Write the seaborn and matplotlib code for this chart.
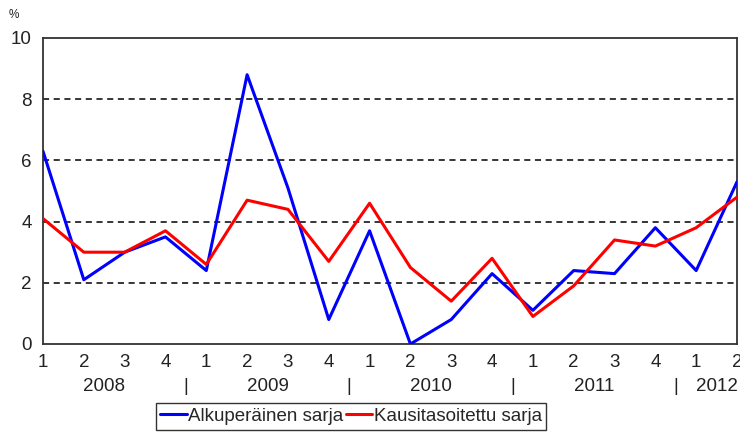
import matplotlib
matplotlib.use("Agg")
import matplotlib.pyplot as plt
import matplotlib.transforms as mtransforms
import pandas as pd
import seaborn as sns

# ── Data ──────────────────────────────────────────────────────────────────────
quarters = ["1", "2", "3", "4"] * 4 + ["1", "2"]
years = ["2008", "2009", "2010", "2011", "2012"]
year_pos = [1.5, 5.5, 9.5, 13.5, 16.5]
year_sep = [3.5, 7.5, 11.5, 15.5]

original = [6.3, 2.1, 3.0, 3.5, 2.4, 8.8, 5.1, 0.8, 3.7,
            0.0, 0.8, 2.3, 1.1, 2.4, 2.3, 3.8, 2.4, 5.3]
seasonal = [4.1, 3.0, 3.0, 3.7, 2.6, 4.7, 4.4, 2.7, 4.6,
            2.5, 1.4, 2.8, 0.9, 1.9, 3.4, 3.2, 3.8, 4.8]

name_orig = "Alkuperäinen sarja"
name_seas = "Kausitasoitettu sarja"

df = pd.DataFrame({
    "t": list(range(len(original))) * 2,
    "value": original + seasonal,
    "series": [name_orig] * len(original) + [name_seas] * len(seasonal),
})

# ── Plot ──────────────────────────────────────────────────────────────────────
sns.set_style("white")
plt.rcParams["font.family"] = ["Liberation Sans", "DejaVu Sans"]
FS = 13.5

fig = plt.figure(figsize=(7.4, 4.32), dpi=100)
ax = fig.add_axes([43 / 740, 1 - 344 / 432, 694 / 740, 306 / 432])

sns.lineplot(data=df, x="t", y="value", hue="series",
             palette={name_orig: "#0000FF", name_seas: "#FF0000"},
             linewidth=2.2, ax=ax, legend=False, zorder=3)

ax.set_xlim(0, len(original) - 1)
ax.set_ylim(0, 10)
ax.set_yticks([0, 2, 4, 6, 8, 10])
ax.set_xticks(range(len(original)))
ax.set_xticklabels(quarters)
ax.tick_params(axis="both", length=0, labelsize=FS, colors="#222222")
ax.tick_params(axis="x", pad=7)
ax.tick_params(axis="y", pad=8)
ax.set_xlabel("")
ax.set_ylabel("")

for y in [2, 4, 6, 8]:
    ax.axhline(y, color="black", linewidth=1.1, linestyle=(0, (4, 3)), zorder=1)

for s in ax.spines.values():
    s.set_color("#333333")
    s.set_linewidth(1.3)

trans = mtransforms.blended_transform_factory(ax.transData, ax.transAxes)
for x, lab in zip(year_pos, years):
    ax.text(x, -0.14, lab, transform=trans, ha="center", va="center",
            fontsize=FS, color="#222222")
for x in year_sep:
    ax.text(x, -0.14, "|", transform=trans, ha="center", va="center",
            fontsize=FS, color="#222222")

fig.text(14 / 740, 1 - 15 / 432, "%", ha="center", va="center",
         fontsize=8.5, color="#222222")

handles = [plt.Line2D([], [], color="#0000FF", linewidth=2.2),
           plt.Line2D([], [], color="#FF0000", linewidth=2.2)]
leg = fig.legend(handles, [name_orig, name_seas], loc="upper center",
                 bbox_to_anchor=(351 / 740, 1 - 403 / 432), ncol=2,
                 frameon=True, fancybox=False, fontsize=FS,
                 handlelength=1.4, handletextpad=0.1, columnspacing=0.1,
                 borderpad=0.25, borderaxespad=0)
leg.get_frame().set_edgecolor("black")
leg.get_frame().set_linewidth(1.0)

fig.savefig("out.png", dpi=100)
